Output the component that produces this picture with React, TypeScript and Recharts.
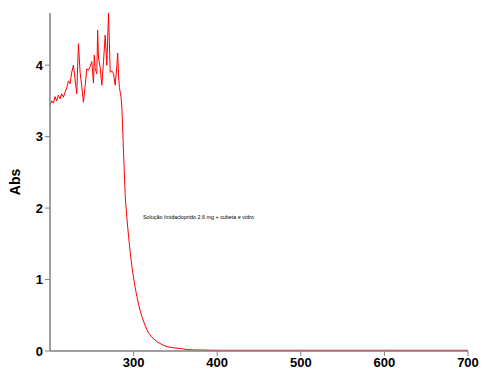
import { LineChart, Line, XAxis, YAxis } from "recharts";

// wavelength (nm) and absorbance
const wavelengths = [
  200, 202, 204, 206, 208, 210, 212, 214, 216, 218, 220, 222, 224, 226, 228, 230,
  232, 234, 236, 238, 240, 242, 244, 246, 248, 250, 252, 253, 254, 256, 257, 258,
  260, 262, 264, 266, 268, 270, 272, 274, 276, 278, 280, 281, 282, 283, 285, 286,
  288, 290, 292, 294, 296, 298, 300, 302, 304, 306, 308, 310, 314, 318, 322, 328,
  334, 340, 348, 356, 364, 372, 400, 450, 500, 550, 600, 650, 700,
];
const absorbance = [
  3.44, 3.5, 3.47, 3.56, 3.5, 3.58, 3.53, 3.6, 3.55, 3.62, 3.68, 3.78, 3.74, 3.9, 4.0, 3.8,
  3.6, 4.3, 3.9, 3.7, 3.48, 3.7, 3.95, 3.93, 3.98, 4.05, 3.75, 4.14, 3.95, 3.88, 4.49, 4.1,
  3.97, 3.72, 4.05, 4.42, 4.0, 4.73, 3.9, 3.92, 3.88, 3.72, 4.0, 4.17, 3.85, 3.69, 3.55, 3.4,
  2.77, 2.16, 1.86, 1.6, 1.38, 1.18, 1.02, 0.88, 0.76, 0.65, 0.56, 0.48, 0.35, 0.25, 0.19, 0.13,
  0.09, 0.06, 0.045, 0.035, 0.02, 0.015, 0.01, 0.01, 0.01, 0.01, 0.01, 0.01, 0.01,
];
const xTicks = [300, 400, 500, 600, 700];
const yTicks = [0, 1, 2, 3, 4];
const note = "Solução Imidacloprido 2,6 mg + cubeta e vidro";

const data = wavelengths.map((w, i) => ({ w, abs: absorbance[i] }));

const axisColor = "#808080";
const tickStyle = { fill: "#000", fontSize: 13, fontWeight: 700, fontFamily: "Liberation Sans, Arial, sans-serif" };

export default function App() {
  return (
    <div style={{ position: "absolute", left: 0, top: 0, width: 482, height: 374, background: "#fff" }}>
      <LineChart width={482} height={374} data={data} margin={{ top: 13, right: 14, bottom: 3, left: 10 }}>
        <XAxis
          dataKey="w"
          type="number"
          domain={[200, 700]}
          ticks={xTicks}
          height={20}
          tick={tickStyle}
          tickSize={5}
          axisLine={{ stroke: axisColor, strokeWidth: 1.5 }}
          tickLine={{ stroke: axisColor }}
        />
        <YAxis
          type="number"
          domain={[0, 4.73]}
          ticks={yTicks}
          width={40}
          tick={tickStyle}
          tickSize={5}
          axisLine={{ stroke: axisColor, strokeWidth: 1.5 }}
          tickLine={{ stroke: axisColor }}
          label={{
            value: "Abs",
            angle: -90,
            position: "insideLeft",
            style: { fill: "#000", fontSize: 14, fontWeight: 700, fontFamily: "Liberation Sans, Arial, sans-serif", textAnchor: "middle" },
          }}
        />
        <Line
          type="linear"
          dataKey="abs"
          stroke="#ff0000"
          strokeWidth={1}
          dot={false}
          isAnimationActive={false}
        />
      </LineChart>
      <div
        style={{
          position: "absolute",
          left: 143,
          top: 214,
          fontSize: 5.4,
          fontFamily: "Liberation Sans, Arial, sans-serif",
          color: "#000",
          whiteSpace: "nowrap",
        }}
      >
        {note}
      </div>
    </div>
  );
}
